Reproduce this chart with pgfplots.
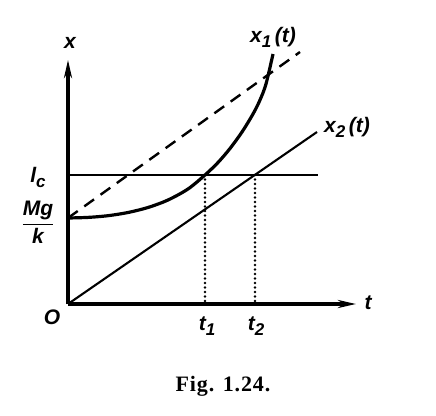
\documentclass[border=0pt]{standalone}
\usepackage{amsmath}
\usepackage{fontspec}
\setmainfont{Liberation Serif}
\newfontfamily\lab{Liberation Sans}
\usepackage{pgfplots}
\pgfplotsset{compat=1.18}
\usetikzlibrary{arrows.meta}
\newcommand{\labfont}{\lab\bfseries\itshape\fontsize{21}{23}\selectfont}
\newcommand{\sub}[1]{\raisebox{-0.45ex}{\fontsize{17}{17}\selectfont #1}}
\tikzset{lbl/.style={font=\labfont, inner sep=1pt}}
\begin{document}
\begin{tikzpicture}
\begin{axis}[
  x=1pt, y=1pt,
  xmin=0, xmax=288, ymin=0, ymax=244,
  axis lines=left,
  axis line style={line width=3.2pt, -{Stealth[length=18pt,width=8pt]}},
  xtick=\empty, ytick=\empty,
  clip=false,
]
\path (axis cs:-68,-111) rectangle (axis cs:368,304);
% critical length level
\addplot[line width=2.7pt] coordinates {(0,129) (250,129)};
% dashed tangent line
\addplot[line width=2.4pt, dash pattern=on 12pt off 8pt] coordinates {(0,86) (232,252)};
% x1(t)
\addplot[line width=3.2pt, smooth, tension=0.5] coordinates {
(0,86) (20,86.6) (40,88.3) (60,91.5) (80,96.5) (100,104) (120,115) (137,129) (150,141.5) (162,155.5) (174,172) (185,190) (192,204) (198,220) (205,250)};
% x2(t)
\addplot[line width=2.1pt] coordinates {(0,0) (249,172)};
% dotted drops
\addplot[line width=2.6pt, dash pattern=on 0pt off 4.5pt, line cap=round] coordinates {(137,129) (137,0)};
\addplot[line width=2.6pt, dash pattern=on 0pt off 4.5pt, line cap=round] coordinates {(187,129) (187,0)};
% labels
\node[lbl] at (axis cs:2,261) {x};
\node[lbl] at (axis cs:300,1) {t};
\node[lbl] at (axis cs:-16,-13) {O};
\node[lbl] at (axis cs:139,-22) {t\sub{1}};
\node[lbl] at (axis cs:188,-22) {t\sub{2}};
\node[lbl] at (axis cs:-30,127) {l\sub{c}};
\node[lbl] at (axis cs:-30,82) {$\dfrac{\text{\labfont Mg}}{\text{\labfont k}}$};
\node[lbl] at (axis cs:205,267) {x\sub{1}\,(t)};
\node[lbl] at (axis cs:279,177) {x\sub{2}\,(t)};
\node[font=\rmfamily\bfseries\fontsize{22}{24}\selectfont\addfontfeatures{LetterSpace=4}] at (axis cs:155,-82) {Fig. 1.24.};
\end{axis}
\end{tikzpicture}
\end{document}
